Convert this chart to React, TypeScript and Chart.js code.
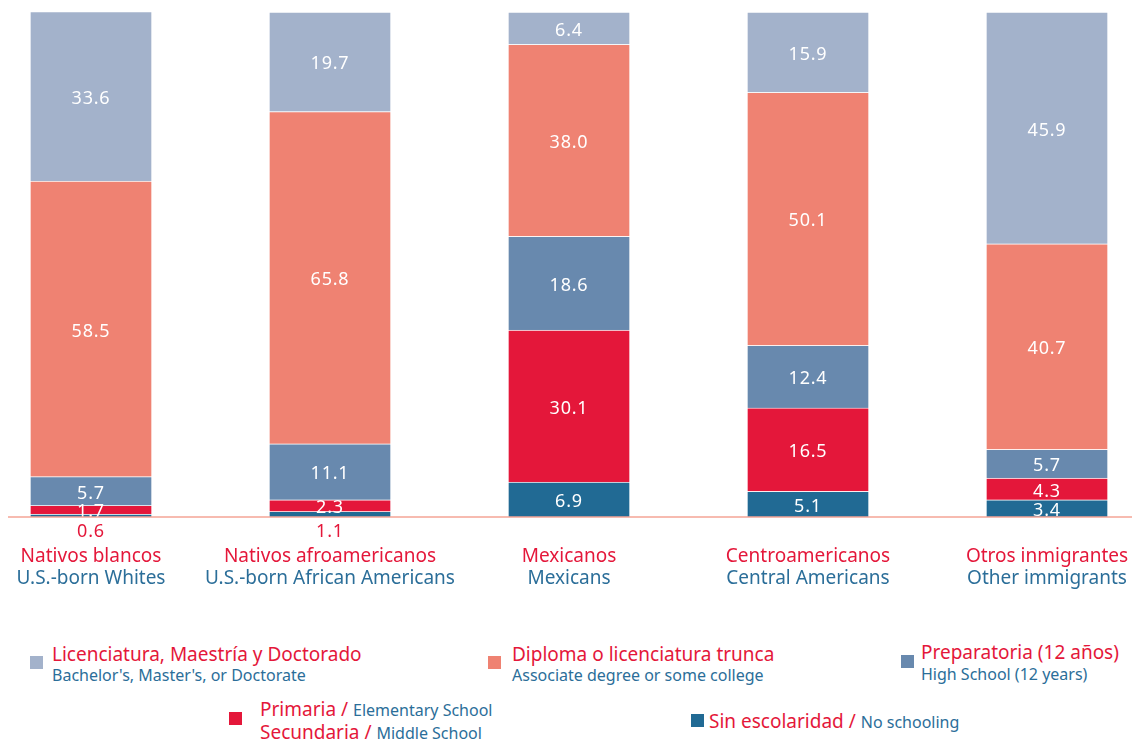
import React, { useEffect, useRef } from "react";
import { Chart, registerables } from "chart.js";

Chart.register(...registerables);

const categoriesEs = ["Nativos blancos", "Nativos afroamericanos", "Mexicanos", "Centroamericanos", "Otros inmigrantes"];
const categoriesEn = ["U.S.-born Whites", "U.S.-born African Americans", "Mexicans", "Central Americans", "Other immigrants"];

const sinEscolaridad = [0.6, 1.1, 6.9, 5.1, 3.4];
const primariaSecundaria = [1.7, 2.3, 30.1, 16.5, 4.3];
const preparatoria = [5.7, 11.1, 18.6, 12.4, 5.7];
const diploma = [58.5, 65.8, 38.0, 50.1, 40.7];
const licenciatura = [33.6, 19.7, 6.4, 15.9, 45.9];

const C_LIGHT = "#A3B2CB";
const C_SALMON = "#EF8272";
const C_STEEL = "#6889AE";
const C_RED = "#E4173A";
const C_DARK = "#216A94";
const T_RED = "#E4173A";
const T_BLUE = "#2B6E99";
const LINE = "#F4A596";
const FONT = '"Noto Sans", sans-serif';

const overlayPlugin = {
  id: "overlay",
  afterDatasetsDraw(chart: any) {
    const ctx = chart.ctx;
    const y0 = chart.scales.y.getPixelForValue(0);
    ctx.save();
    ctx.font = `18px ${FONT}`;
    (ctx as any).letterSpacing = "0.8px";
    ctx.textAlign = "center";
    ctx.textBaseline = "middle";
    chart.data.datasets.forEach((ds: any, di: number) => {
      const meta = chart.getDatasetMeta(di);
      meta.data.forEach((el: any, i: number) => {
        const v = ds.data[i];
        const p = el.getProps(["x", "y", "base"], true);
        const txt = v.toFixed(1);
        if (v < 1.5) {
          ctx.fillStyle = T_RED;
          ctx.fillText(txt, p.x, y0 + 15);
        } else {
          ctx.fillStyle = "#FFFFFF";
          ctx.fillText(txt, p.x, (p.y + p.base) / 2 + 2.5);
        }
      });
    });
    // baseline
    ctx.strokeStyle = LINE;
    ctx.lineWidth = 1.5;
    ctx.beginPath();
    ctx.moveTo(8, y0);
    ctx.lineTo(chart.width, y0);
    ctx.stroke();
    // category labels
    (ctx as any).letterSpacing = "0px";
    ctx.font = `19px ${FONT}`;
    const xs = chart.scales.x;
    categoriesEs.forEach((c, i) => {
      const x = xs.getPixelForValue(i);
      ctx.fillStyle = T_RED;
      ctx.fillText(c, x, 557);
      ctx.fillStyle = T_BLUE;
      ctx.fillText(categoriesEn[i], x, 579);
    });
    ctx.restore();
  },
};

function Txt(props: { left: number; baseline: number; size: number; color: string; children: any }) {
  const { left, baseline, size, color, children } = props;
  return (
    <div
      style={{
        position: "absolute",
        left,
        top: baseline - 0.888 * size,
        fontSize: size,
        lineHeight: `${size}px`,
        color,
        whiteSpace: "nowrap",
        fontFamily: FONT,
      }}
    >
      {children}
    </div>
  );
}

function Sq(props: { left: number; top: number; color: string }) {
  return (
    <div
      style={{
        position: "absolute",
        left: props.left,
        top: props.top,
        width: 13,
        height: 13,
        background: props.color,
      }}
    />
  );
}

export default function App() {
  const ref = useRef<HTMLCanvasElement>(null);
  useEffect(() => {
    if (!ref.current) return;
    const mk = (label: string, data: number[], color: string) => ({
      label,
      data,
      backgroundColor: color,
      borderColor: "rgba(255,255,255,0.35)",
      borderWidth: 1,
      barThickness: 122,
      clip: false as any,
    });
    const chart = new Chart(ref.current, {
      type: "bar",
      data: {
        labels: categoriesEs,
        datasets: [
          mk("Sin escolaridad", sinEscolaridad, C_DARK),
          mk("Primaria / Secundaria", primariaSecundaria, C_RED),
          mk("Preparatoria", preparatoria, C_STEEL),
          mk("Diploma", diploma, C_SALMON),
          mk("Licenciatura", licenciatura, C_LIGHT),
        ] as any,
      },
      options: {
        animation: false,
        responsive: false,
        maintainAspectRatio: false,
        layout: { padding: { left: 91, right: 85, top: 12, bottom: 83 } },
        plugins: { legend: { display: false }, tooltip: { enabled: false } },
        scales: {
          x: { stacked: true, display: false, offset: false, grid: { display: false } },
          y: { stacked: true, display: false, min: 0, max: 100, grid: { display: false } },
        },
      },
      plugins: [overlayPlugin],
    });
    return () => chart.destroy();
  }, []);

  return (
    <div style={{ position: "fixed", left: 0, top: 0, width: 1132, height: 740, background: "#fff", overflow: "hidden", fontFamily: FONT }}>
      <canvas ref={ref} width={1132} height={600} style={{ position: "absolute", left: 0, top: 0, width: 1132, height: 600 }} />
      <Sq left={30} top={656} color={C_LIGHT} />
      <Txt left={52} baseline={662} size={19} color={T_RED}>Licenciatura, Maestría y Doctorado</Txt>
      <Txt left={52} baseline={681} size={16} color={T_BLUE}>Bachelor's, Master's, or Doctorate</Txt>

      <Sq left={488} top={656} color={C_SALMON} />
      <Txt left={512} baseline={662} size={19} color={T_RED}>Diploma o licenciatura trunca</Txt>
      <Txt left={512} baseline={681} size={16} color={T_BLUE}>Associate degree or some college</Txt>

      <Sq left={901} top={655} color={C_STEEL} />
      <Txt left={921} baseline={660} size={19} color={T_RED}>Preparatoria (12 años)</Txt>
      <Txt left={921} baseline={680} size={16} color={T_BLUE}>High School (12 years)</Txt>

      <Sq left={229} top={712} color={C_RED} />
      <Txt left={260} baseline={717} size={19} color={T_RED}>
        Primaria / <span style={{ fontSize: 16, color: T_BLUE }}>Elementary School</span>
      </Txt>
      <Txt left={260} baseline={740} size={19} color={T_RED}>
        Secundaria / <span style={{ fontSize: 16, color: T_BLUE }}>Middle School</span>
      </Txt>

      <Sq left={691} top={714} color={C_DARK} />
      <Txt left={709} baseline={729} size={19} color={T_RED}>
        Sin escolaridad / <span style={{ fontSize: 16, color: T_BLUE }}>No schooling</span>
      </Txt>
    </div>
  );
}
